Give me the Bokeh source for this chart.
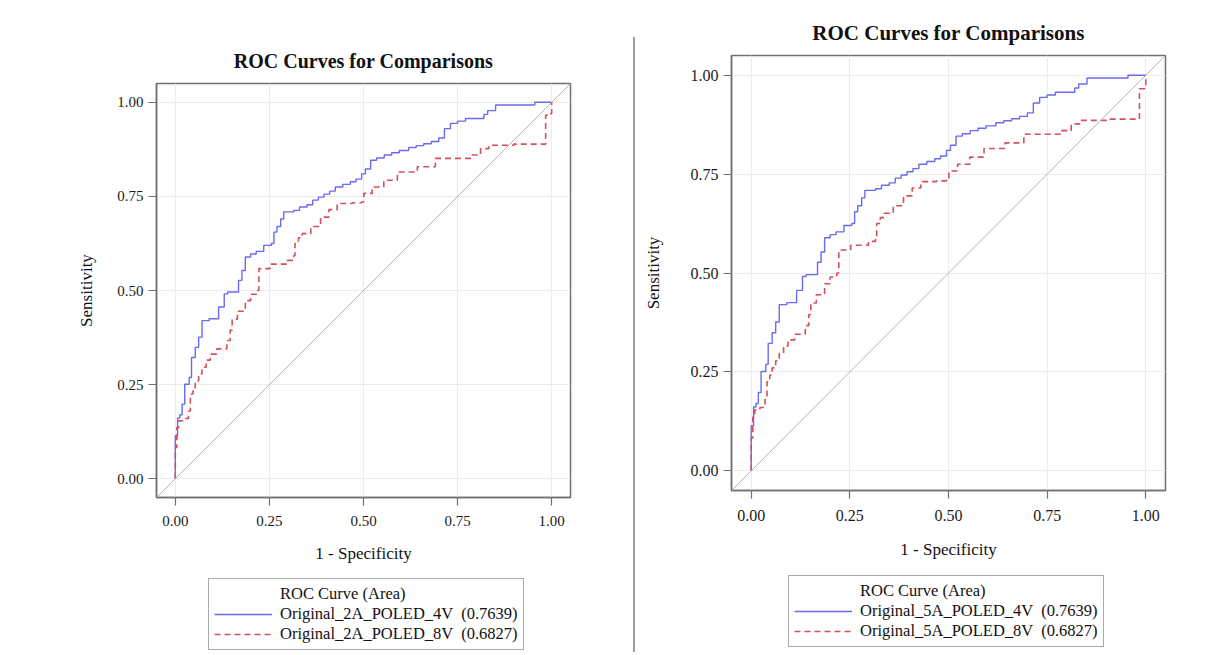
from bokeh.plotting import figure
from bokeh.models import Range1d, Slope, Legend, LegendItem, Div, FixedTicker
from bokeh.layouts import row, column
from bokeh.embed import file_html
from bokeh.resources import INLINE

# ---------------- data ----------------
title_text = "ROC Curves for Comparisons"
x_label = "1 - Specificity"
y_label = "Sensitivity"
legend_header = "ROC Curve (Area)"
tick_values = [0.0, 0.25, 0.5, 0.75, 1.0]
tick_labels = ["0.00", "0.25", "0.50", "0.75", "1.00"]

left_series = ["Original_2A_POLED_4V  (0.7639)", "Original_2A_POLED_8V  (0.6827)"]
right_series = ["Original_5A_POLED_4V  (0.7639)", "Original_5A_POLED_8V  (0.6827)"]

fpr_4v = [0.000, 0.000, 0.006, 0.012, 0.018, 0.025, 0.037, 0.043, 0.053, 0.062, 0.071, 0.090,
          0.115, 0.130, 0.139, 0.165, 0.168, 0.177, 0.186, 0.200, 0.215, 0.235, 0.255, 0.262,
          0.270, 0.280, 0.288, 0.315, 0.330, 0.350, 0.365, 0.380, 0.395, 0.410, 0.425, 0.445,
          0.465, 0.480, 0.495, 0.505, 0.519, 0.535, 0.555, 0.575, 0.595, 0.620, 0.640, 0.660,
          0.680, 0.700, 0.715, 0.731, 0.750, 0.771, 0.811, 0.820, 0.830, 0.851, 0.940, 0.955, 1.000]
tpr_4v = [0.000, 0.114, 0.161, 0.170, 0.198, 0.251, 0.269, 0.322, 0.349, 0.376, 0.420, 0.425,
          0.456, 0.491, 0.496, 0.496, 0.527, 0.553, 0.589, 0.597, 0.604, 0.620, 0.625, 0.655,
          0.670, 0.690, 0.709, 0.713, 0.722, 0.728, 0.740, 0.748, 0.756, 0.764, 0.775, 0.782,
          0.789, 0.796, 0.810, 0.823, 0.846, 0.852, 0.860, 0.866, 0.872, 0.880, 0.885, 0.890,
          0.896, 0.905, 0.930, 0.944, 0.950, 0.957, 0.957, 0.968, 0.978, 0.993, 0.993, 1.000, 1.000]

fpr_8v = [0.000, 0.000, 0.004, 0.009, 0.022, 0.035, 0.040, 0.047, 0.053, 0.062, 0.071, 0.082,
          0.093, 0.110, 0.137, 0.146, 0.151, 0.165, 0.186, 0.200, 0.217, 0.222, 0.252, 0.297,
          0.315, 0.318, 0.327, 0.337, 0.360, 0.386, 0.408, 0.430, 0.470, 0.495, 0.501, 0.523,
          0.554, 0.590, 0.643, 0.691, 0.785, 0.811, 0.833, 0.900, 0.984, 0.984, 0.997, 1.000]
tpr_8v = [0.000, 0.083, 0.136, 0.154, 0.160, 0.180, 0.225, 0.242, 0.260, 0.278, 0.296, 0.315,
          0.331, 0.345, 0.367, 0.395, 0.424, 0.445, 0.473, 0.490, 0.500, 0.558, 0.570, 0.580,
          0.593, 0.625, 0.640, 0.651, 0.670, 0.695, 0.715, 0.731, 0.733, 0.735, 0.758, 0.775,
          0.793, 0.815, 0.829, 0.851, 0.860, 0.877, 0.886, 0.889, 0.891, 0.966, 0.970, 1.000]

# ---------------- styling ----------------
FONT = "Liberation Serif"
BLUE = "#6a6af2"
RED = "#d4505c"
FRAME = "#707070"
RED_DASH = "6 4"


def make_plot(width, height, bl, br, bt, bb, title_size, title_standoff, tick_size,
              label_size, xtick_standoff, ylab_standoff, xlab_standoff):
    p = figure(width=width, height=height, output_backend="svg", toolbar_location=None,
               x_range=Range1d(-0.05, 1.05), y_range=Range1d(-0.05, 1.05),
               min_border_left=bl, min_border_right=br, min_border_top=bt,
               min_border_bottom=bb, background_fill_color="white",
               border_fill_color="white")
    p.title.text = title_text
    p.title.align = "center"
    p.title.text_font = FONT
    p.title.text_font_style = "bold"
    p.title.text_font_size = title_size
    p.title.text_color = "#111111"
    p.title.standoff = title_standoff

    p.outline_line_color = FRAME
    p.outline_line_width = 1.5
    p.outline_line_alpha = 1

    for ax in (p.xaxis[0], p.yaxis[0]):
        ax.ticker = FixedTicker(ticks=tick_values)
        ax.major_label_overrides = {v: s for v, s in zip(tick_values, tick_labels)}
        ax.minor_tick_line_color = None
        ax.major_tick_in = 0
        ax.major_tick_out = 8
        ax.major_tick_line_color = FRAME
        ax.major_tick_line_width = 1.2
        ax.axis_line_color = FRAME
        ax.axis_line_width = 1.5
        ax.major_label_text_font = FONT
        ax.major_label_text_font_size = tick_size
        ax.major_label_text_color = "#1a1a1a"
        ax.axis_label_text_font = FONT
        ax.axis_label_text_font_size = label_size
        ax.axis_label_text_font_style = "normal"
        ax.axis_label_text_color = "#111111"
    p.xaxis.axis_label = x_label
    p.yaxis.axis_label = y_label
    p.xaxis.major_label_standoff = xtick_standoff
    p.yaxis.major_label_standoff = 5
    p.xaxis.axis_label_standoff = xlab_standoff
    p.yaxis.axis_label_standoff = ylab_standoff

    p.grid.grid_line_color = "#ececec"
    p.grid.grid_line_width = 1

    p.add_layout(Slope(gradient=1, y_intercept=0, line_color="#b4b4b4", line_width=1))

    p.step(fpr_4v, tpr_4v, mode="after", line_color=BLUE, line_width=1.4)
    p.step(fpr_8v, tpr_8v, mode="after", line_color=RED, line_width=1.6,
           line_dash=RED_DASH)
    return p


def make_legend(width, height, series, loc):
    # legend panel below each chart; its view range lies outside the data, so the
    # curves themselves are not repeated here, only their legend swatches.
    lf = figure(width=width, height=height, output_backend="svg", toolbar_location=None,
                x_range=Range1d(5, 6), y_range=Range1d(5, 6),
                min_border=0, background_fill_color="white",
                border_fill_color="white")
    lf.axis.visible = False
    lf.grid.visible = False
    lf.outline_line_color = None
    hdr = lf.line(fpr_4v, tpr_4v, line_alpha=0)
    b = lf.line(fpr_4v, tpr_4v, line_color=BLUE, line_width=1.4)
    r = lf.line(fpr_8v, tpr_8v, line_color=RED, line_width=1.6, line_dash=RED_DASH)
    legend = Legend(items=[LegendItem(label=legend_header, renderers=[hdr]),
                           LegendItem(label=series[0], renderers=[b]),
                           LegendItem(label=series[1], renderers=[r])],
                    location=loc, orientation="vertical")
    legend.label_text_font = FONT
    legend.label_text_font_size = "16.5px"
    legend.label_text_color = "#111111"
    legend.glyph_width = 58
    legend.glyph_height = 20
    legend.label_height = 20
    legend.label_standoff = 8
    legend.padding = 5
    legend.spacing = 0
    legend.margin = 0
    legend.border_line_color = "#555555"
    legend.border_line_width = 1
    legend.background_fill_color = "white"
    legend.background_fill_alpha = 1
    lf.add_layout(legend, "center")
    return lf


left = make_plot(628, 575, 156, 58, 83, 78, "20px", 24, "15px", "17px", 10, 18, 15)
left_leg = make_legend(628, 77, left_series, (52, 2))
right = make_plot(560, 570, 90, 35, 55, 80, "21px", 21, "16px", "17px", 11, 25, 16)
right_leg = make_legend(560, 82, right_series, (57, 5))

divider = Div(text="", width=2, height=615, margin=(37, 5, 0, 5),
              styles={"background-color": "#9c9c9c"})

layout = row(column(left, left_leg), divider, column(right, right_leg))

open("out.html", "w").write(file_html(layout, INLINE))
